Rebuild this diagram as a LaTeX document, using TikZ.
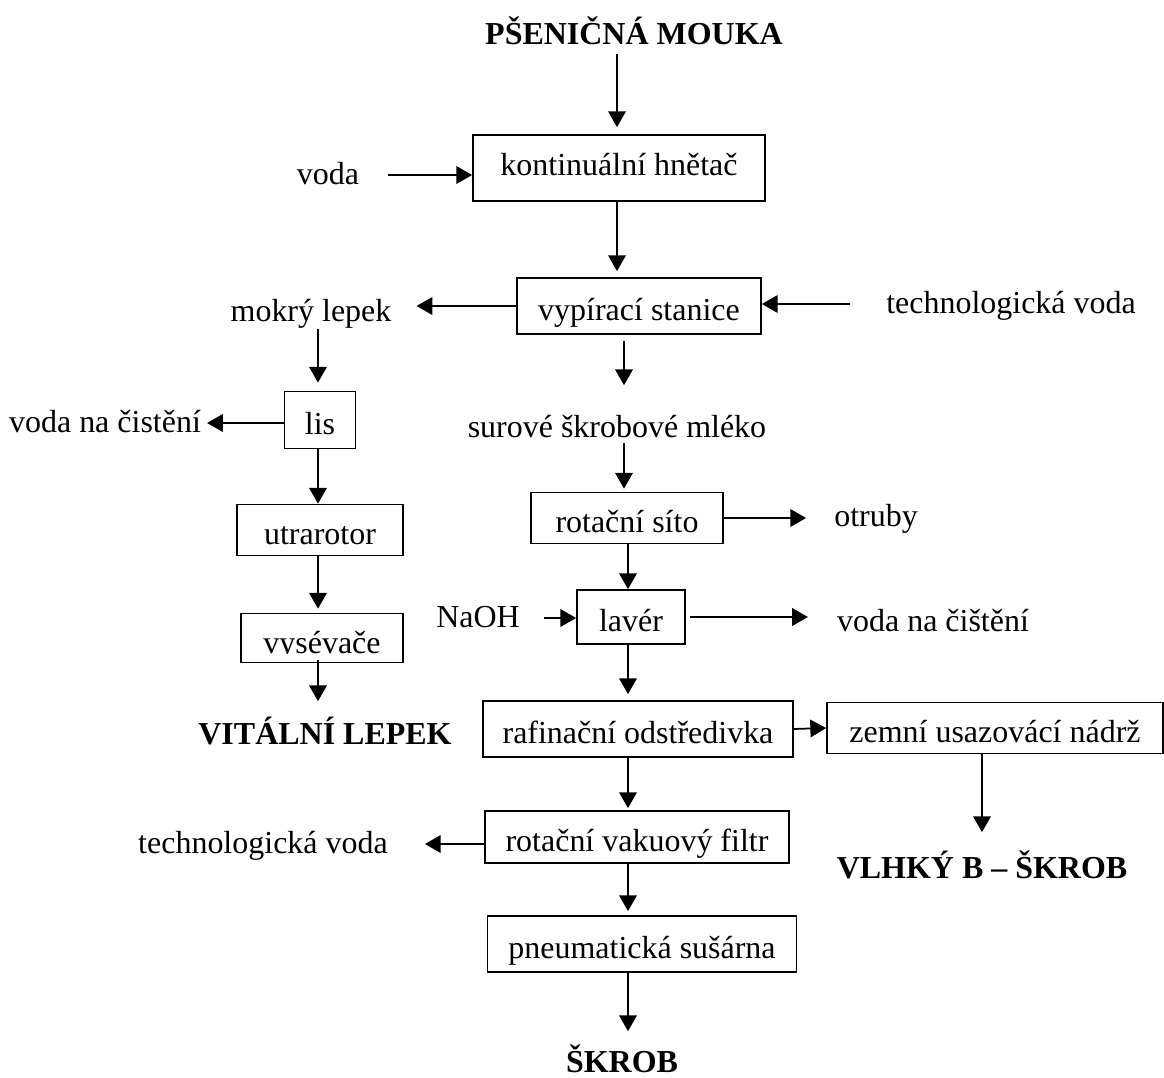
\documentclass[tikz,border=0pt]{standalone}
\usepackage{fontspec}
\setmainfont{Liberation Serif}
\usetikzlibrary{arrows.meta}

\begin{document}
\begin{tikzpicture}[x=0.02cm,y=-0.02cm,
    font=\fontsize{18.2}{22}\selectfont,
    line width=1pt,
    >={Triangle[length=9pt,width=10pt]},
    txt/.style={inner sep=3pt,text height=13pt,text depth=2pt},
    hlavni/.style={txt,font=\fontsize{18.2}{22}\selectfont\bfseries},
    box/.style={draw,inner sep=3pt,text height=16pt,text depth=0pt}]
  \useasboundingbox (0,0) rectangle (1164,1078);

  \node[hlavni] (mouka) at (634,35) {PŠENIČNÁ MOUKA};
  \node[txt] (voda) at (328,175) {voda};
  \node[box,minimum width=5.84cm,minimum height=1.32cm,text height=11pt,text depth=3pt] (hnetac) at (619,168) {kontinuální hnětač};
  \node[txt] (techvoda) at (1011,304) {technologická voda};
  \node[box,minimum width=4.88cm,minimum height=1.12cm] (vypirani) at (639,306) {vypírací stanice};
  \node[txt] (lepek) at (311,312) {mokrý lepek};
  \node[txt] (mleko) at (617,428) {surové škrobové mléko};
  \node[box,minimum width=1.42cm,minimum height=1.14cm] (lis) at (320,420) {lis};
  \node[txt] (cisteni) at (105,423) {voda na čistění};
  \node[box,minimum width=3.32cm,minimum height=1.02cm] (utrarotor) at (320,530) {utrarotor};
  \node[box,minimum width=3.24cm,minimum height=0.98cm] (vysevace) at (322,638) {};
  \begin{scope}
    \clip (241,614) rectangle (404,653);
    \node[txt] (vysevacetxt) at (322,644) {vysévače};
  \end{scope}
  \node[hlavni] (vitalni) at (325,735) {VITÁLNÍ LEPEK};
  \node[box,minimum width=3.84cm,minimum height=1.02cm] (sito) at (627,518) {rotační síto};
  \node[txt] (otruby) at (876,517) {otruby};
  \node[txt] (naoh) at (478,618) {NaOH};
  \node[box,minimum width=2.16cm,minimum height=1.08cm] (laver) at (631,617) {lavér};
  \node[txt] (cisteni2) at (933,622) {voda na čištění};
  \node[box,minimum width=6.2cm,minimum height=1.12cm] (rafinace) at (638,729) {rafinační odstředivka};
  \node[box,minimum width=6.72cm,minimum height=1.02cm] (nadrz) at (995,728) {zemní usazovácí nádrž};
  \node[hlavni] (bskrob) at (982,869) {VLHKÝ B – ŠKROB};
  \node[box,minimum width=6.08cm,minimum height=1.04cm] (filtr) at (637,837) {rotační vakuový filtr};
  \node[txt] (techvoda2) at (263,844) {technologická voda};
  \node[box,minimum width=6.18cm,minimum height=1.12cm] (susarna) at (642,944) {pneumatická sušárna};
  \node[hlavni] (skrob) at (622,1063) {ŠKROB};

  \coordinate (osa1) at (617,0);
  \coordinate (osa2) at (624,0);
  \coordinate (osa) at (628,0);
  \coordinate (osl) at (318,0);

  \draw[->,shorten >=0.14cm] (osa1 |- mouka.south) -- (osa1 |- hnetac.north);
  \draw[->,shorten <=0.46cm] (voda.east) -- (voda.east -| hnetac.west);
  \draw[->,shorten >=0.12cm] (osa1 |- hnetac.south) -- (osa1 |- vypirani.north);
  \draw[->,shorten <=0.6cm] (techvoda.west) -- (techvoda.west -| vypirani.east);
  \draw[->,shorten >=0.38cm] (vypirani.west) -- (vypirani.west -| lepek.east);
  \draw[->,shorten <=0.12cm,shorten >=0.47cm] (osa2 |- vypirani.south) -- (osa2 |- mleko.north);
  \draw[->,shorten <=-0.05cm,shorten >=0.16cm] (osl |- lepek.south) -- (osl |- lis.north);
  \draw[->] (cisteni.east -| lis.west) -- (cisteni.east);
  \draw[->] (osl |- lis.south) -- (osl |- utrarotor.north);
  \draw[->,shorten >=0.08cm] (osl |- utrarotor.south) -- (osl |- vysevace.north);
  \draw[->,shorten <=-0.06cm,shorten >=0.29cm] (osl |- vysevace.south) -- (osl |- vitalni.north);
  \draw[->,shorten <=-0.09cm,shorten >=0.06cm] (osa2 |- mleko.south) -- (osa2 |- sito.north);
  \draw[->,shorten >=0.44cm] (sito.east) -- (sito.east -| otruby.west);
  \draw[->] (osa |- sito.south) -- (osa |- laver.north);
  \draw[->,shorten <=0.36cm] (naoh.east) -- (naoh.east -| laver.west);
  \draw[->,shorten <=0.08cm,shorten >=0.46cm] (laver.east) -- (laver.east -| cisteni2.west);
  \draw[->,shorten >=0.12cm] (osa |- laver.south) -- (osa |- rafinace.north);
  \draw[->] (rafinace.east) -- (nadrz.west);
  \draw[->,shorten >=0.35cm] (bskrob.north |- nadrz.south) -- (bskrob.north);
  \draw[->,shorten >=0.04cm] (osa |- rafinace.south) -- (osa |- filtr.north);
  \draw[->,shorten >=0.62cm] (techvoda2.east -| filtr.west) -- (techvoda2.east);
  \draw[->,shorten >=0.08cm] (osa |- filtr.south) -- (osa |- susarna.north);
  \draw[->,shorten >=0.25cm] (osa |- susarna.south) -- (osa |- skrob.north);
\end{tikzpicture}
\end{document}
